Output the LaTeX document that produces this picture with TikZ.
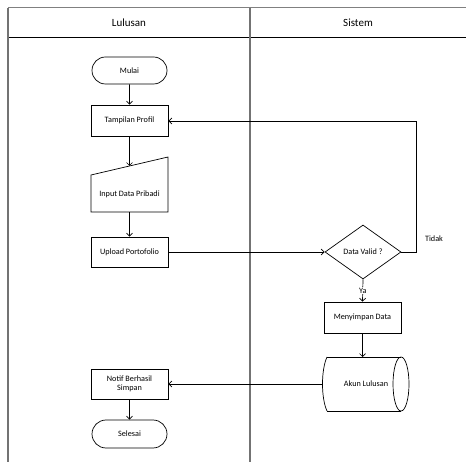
\documentclass[tikz,border=0pt]{standalone}
\usepackage{fontspec}
\setmainfont{Carlito}
\usetikzlibrary{shapes.geometric,shapes.misc,arrows.meta,calc}
\begin{document}
\begin{tikzpicture}[x=1pt,y=-1pt,
  lane/.style={draw=black!55,line width=1.3pt},
  box/.style={draw,line width=0.7pt,minimum width=77pt,inner sep=1pt,font=\fontsize{8.2}{9.5}\selectfont,align=center},
  term/.style={box,rounded rectangle},
  txt/.style={font=\fontsize{8.2}{9.5}\selectfont,inner sep=1pt},
  conn/.style={line width=0.7pt,-{Straight Barb[length=3pt,width=6pt]}},
  line/.style={line width=0.7pt}]
\useasboundingbox (0,0) rectangle (466,462);
% lanes
\draw[draw=black!50,line width=1pt] (8,8) -- (466,8);
\draw[line width=0.8pt] (8,37) -- (466,37);
\draw[lane] (8,8) -- (8,462);
\draw[lane] (250,8) -- (250,462);
\node[font=\fontsize{11}{12}\selectfont] (h1) at (129,23) {Lulusan};
\node[font=\fontsize{11}{12}\selectfont] (h2) at (358,23) {Sistem};
% nodes
\node[term,minimum height=27pt] (mulai) at (129.5,70.5) {Mulai};
\node[box,minimum height=31pt] (tampil) at (129.5,120.5) {Tampilan Profil};
\node[box,draw=none,minimum height=55pt] (input) at (129.5,184.5) {};
\draw[line] (91,175) -- (168,157) -- (168,212) -- (91,212) -- cycle;
\node[txt] (inputtxt) at (129.5,194) {Input Data Pribadi};
\coordinate (inputtop) at (129.5,166);
\node[box,minimum height=30pt] (upload) at (129.5,252) {Upload Portofolio};
\node[draw,line width=0.7pt,diamond,aspect=1.4,minimum width=76pt,minimum height=54pt,inner sep=0pt,font=\fontsize{8.2}{9.5}\selectfont] (dv) at (363,252) {Data Valid ?};
\node[box,minimum height=31pt] (simpan) at (362.5,317.5) {Menyimpan Data};
\node[txt,minimum width=85pt,minimum height=54pt] (akun) at (366,384) {Akun Lulusan};
\draw[line] (327,357) -- (401,357);
\draw[line] (327,411) -- (401,411);
\draw[line] (327,357) .. controls (321,370) and (321,398) .. (327,411);
\draw[line] (401,384) ellipse [x radius=8, y radius=27];
\node[box,minimum height=30pt] (notif) at (129.5,384) {Notif Berhasil\\Simpan};
\node[term,minimum height=28pt] (selesai) at (129.5,434) {Selesai};
% connectors
\draw[conn] (mulai) -- (tampil);
\draw[conn] (tampil) -- (inputtop);
\draw[conn] (input.south) -- (upload);
\draw[conn] (upload) -- (dv.west);
\coordinate (c1) at (416,252);
\coordinate (c2) at (416,121);
\draw[conn] (dv.east) -- (c1) -- (c2) -- (c2 -| tampil.east);
\node[txt] (tidak) at (434,239) {Tidak};
\draw[conn] (dv.south) -- node[txt,fill=white,inner sep=0.5pt] (ya) {Ya} (simpan.north);
\coordinate (akuntop) at (362.5,357);
\draw[conn] (simpan.south) -- (akuntop);
\coordinate (akunleft) at (322.5,384);
\draw[conn] (akunleft) -- (notif.east);
\draw[conn] (notif) -- (selesai);
\end{tikzpicture}
\end{document}
